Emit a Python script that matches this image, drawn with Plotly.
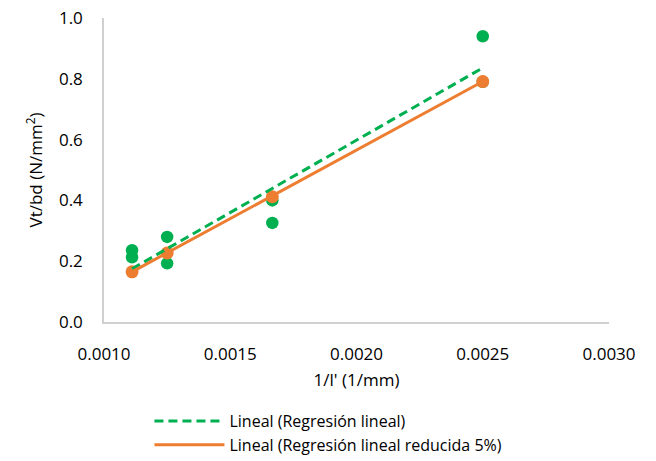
import plotly.graph_objects as go

# Data (1/l' in 1/mm, Vt/bd in N/mm^2)
x_green = [1/900, 1/900, 1/800, 1/800, 1/600, 1/600, 1/400, 1/400]
y_green = [0.236, 0.213, 0.280, 0.193, 0.400, 0.326, 0.940, 0.790]

x_orange = [1/900, 1/800, 1/600, 1/400]
y_orange = [0.165, 0.227, 0.412, 0.791]

trend_x = [1/900, 1/400]
trend_green = [0.175, 0.836]
trend_orange = [0.165, 0.791]

green = "#00B050"
orange = "#ED7D31"
font_family = "Open Sans, Liberation Sans, sans-serif"

fig = go.Figure()
fig.add_trace(go.Scatter(x=x_green, y=y_green, mode="markers",
                         marker=dict(color=green, size=12.5), showlegend=False,
                         name="Regresión lineal"))
fig.add_trace(go.Scatter(x=x_orange, y=y_orange, mode="markers",
                         marker=dict(color=orange, size=13), showlegend=False,
                         name="Regresión lineal reducida 5%"))
fig.add_trace(go.Scatter(x=trend_x, y=trend_green, mode="lines",
                         line=dict(color=green, width=3, dash="9px,5px"),
                         name="Lineal (Regresión lineal)"))
fig.add_trace(go.Scatter(x=trend_x, y=trend_orange, mode="lines",
                         line=dict(color=orange, width=3),
                         name="Lineal (Regresión lineal reducida 5%)"))

fig.update_layout(
    width=656, height=461,
    margin=dict(l=104, r=47, t=18, b=139, autoexpand=False),
    plot_bgcolor="white", paper_bgcolor="white",
    font=dict(family=font_family, size=17, color="#000000"),
    xaxis=dict(range=[0.001, 0.003], tickvals=[0.001, 0.0015, 0.002, 0.0025, 0.003],
               tickformat=".4f", showgrid=False, zeroline=False, automargin=False,
               showline=True, linecolor="#d0d0d0", linewidth=1.5,
               ticks="", ticklen=0, ticklabelstandoff=16,
               title=dict(text="1/l' (1/mm)", font=dict(size=17), standoff=10),
               tickfont=dict(size=17)),
    yaxis=dict(range=[0, 1.0], tickvals=[0, 0.2, 0.4, 0.6, 0.8, 1.0],
               tickformat=".1f", showgrid=False, zeroline=False, automargin=False,
               showline=True, linecolor="#d0d0d0", linewidth=1.5,
               ticks="", ticklen=0, ticklabelstandoff=16,
               title=dict(text="Vt/bd (N/mm<sup>2</sup>)", font=dict(size=17), standoff=12),
               tickfont=dict(size=17)),
    legend=dict(x=0.09, y=-0.27, xanchor="left", yanchor="top",
                itemwidth=70, font=dict(size=16), tracegroupgap=0,
                bgcolor="rgba(0,0,0,0)"),
)

fig.write_html("out.html")
